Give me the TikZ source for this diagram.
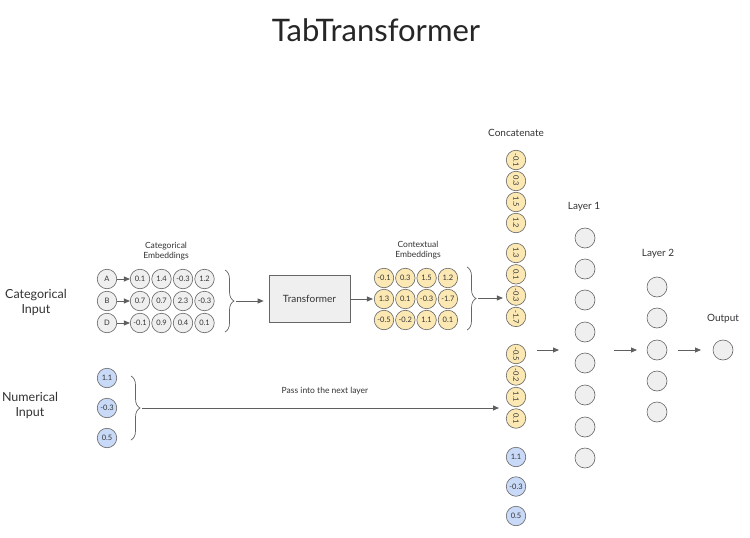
\documentclass[tikz,border=0pt]{standalone}
\usepackage{fontspec}
\setmainfont{Lato}
\usetikzlibrary{arrows.meta,decorations.pathreplacing}
\definecolor{edge}{HTML}{666666}
\definecolor{grayfill}{HTML}{EFEFEF}
\definecolor{yel}{HTML}{FCE8B2}
\definecolor{blu}{HTML}{C9DAF8}
\definecolor{arr}{HTML}{5F5F5F}
\definecolor{txt}{HTML}{333333}
\begin{document}
\begin{tikzpicture}[x=1pt,y=-1pt,
  cell/.style={circle,draw=edge,line width=0.6pt,minimum size=19.5pt,inner sep=0pt,font=\fontsize{7.5}{8}\selectfont,text=txt},
  gcell/.style={cell,fill=grayfill},
  ycell/.style={cell,fill=yel},
  bcell/.style={cell,fill=blu},
  vcell/.style={ycell,rotate=-90},
  neuron/.style={circle,draw=edge,line width=0.6pt,fill=grayfill,minimum size=20pt,inner sep=0pt},
  lab/.style={font=\fontsize{10}{12}\selectfont,text=txt,align=center},
  smlab/.style={font=\fontsize{8.5}{10}\selectfont,text=txt,align=center},
  biglab/.style={font=\fontsize{12.5}{15}\selectfont,text=txt,align=center},
  conn/.style={draw=arr,line width=0.8pt,-{Triangle[width=5pt,length=6pt]}},
  bracestyle/.style={draw=edge,line width=0.7pt,decorate,decoration={brace,amplitude=9pt,aspect=0.5}},
]
\useasboundingbox (0,0) rectangle (750,538);
\fill[white] (0,0) rectangle (750,538);

% title
\node[font=\fontsize{31}{36}\selectfont,text=black!85] (title) at (376,30) {TabTransformer};

% left labels
\node[biglab] (catin) at (36,302) {Categorical\\Input};
\node[biglab] (numin) at (30,405) {Numerical\\Input};

% categorical inputs
\node[gcell] (ca) at (107,279) {A};
\node[gcell] (cb) at (107,301) {B};
\node[gcell] (cd) at (107,323) {D};

% categorical embeddings
\node[smlab] (celab) at (166,251) {Categorical\\Embeddings};
\foreach \v [count=\i] in {0.1,1.4,-0.3,1.2}
  \node[gcell] (ea\i) at ({140+21.5*(\i-1)},279) {\v};
\foreach \v [count=\i] in {0.7,0.7,2.3,-0.3}
  \node[gcell] (eb\i) at ({140+21.5*(\i-1)},301) {\v};
\foreach \v [count=\i] in {-0.1,0.9,0.4,0.1}
  \node[gcell] (ed\i) at ({140+21.5*(\i-1)},323) {\v};
\draw[conn] (ca) -- (ea1);
\draw[conn] (cb) -- (eb1);
\draw[conn] (cd) -- (ed1);

% brace 1 and transformer
\coordinate (b1top) at (225,270);
\coordinate (b1bot) at (225,332);
\coordinate (b1tip) at (236,301);
\draw[bracestyle] (b1top) -- (b1bot);
\node[draw=edge,line width=0.7pt,fill=grayfill,minimum width=81pt,minimum height=47pt,inner sep=0pt,lab] (tr) at (309.5,299) {Transformer};
\draw[conn,shorten >=5pt] (b1tip) -- (b1tip -| tr.west);

% contextual embeddings
\node[smlab] (cxlab) at (418,250) {Contextual\\Embeddings};
\foreach \v [count=\i] in {-0.1,0.3,1.5,1.2}
  \node[ycell] (xa\i) at ({384+21.3*(\i-1)},278) {\v};
\foreach \v [count=\i] in {1.3,0.1,-0.3,-1.7}
  \node[ycell] (xb\i) at ({384+21.3*(\i-1)},299) {\v};
\foreach \v [count=\i] in {-0.5,-0.2,1.1,0.1}
  \node[ycell] (xc\i) at ({384+21.3*(\i-1)},320) {\v};
\draw[conn,shorten >=1pt] (tr.east) -- (xb1.west);

% brace 2
\coordinate (b2top) at (467,267);
\coordinate (b2bot) at (467,330);
\coordinate (b2tip) at (478,298);

% concatenate column
\node[lab] (conlab) at (516,133) {Concatenate};
\foreach \v [count=\i] in {-0.1,0.3,1.5,1.2}
  \node[vcell] (k1\i) at (516,{160+21*(\i-1)}) {\v};
\foreach \v [count=\i] in {1.3,0.1,-0.3,-1.7}
  \node[vcell] (k2\i) at (516,{253+21.3*(\i-1)}) {\v};
\foreach \v [count=\i] in {-0.5,-0.2,1.1,0.1}
  \node[vcell] (k3\i) at (516,{354+21.5*(\i-1)}) {\v};
\foreach \v [count=\i] in {1.1,-0.3,0.5}
  \node[bcell] (kb\i) at (516,{457+29.5*(\i-1)}) {\v};

\draw[bracestyle] (b2top) -- (b2bot);
\draw[conn,shorten >=3pt] (b2tip) -- (b2tip -| k23.south);

% numerical inputs
\node[bcell] (n1) at (107,378) {1.1};
\node[bcell] (n2) at (107,408) {-0.3};
\node[bcell] (n3) at (107,438) {0.5};
\coordinate (b3top) at (131,376);
\coordinate (b3bot) at (131,440);
\coordinate (b3tip) at (142,408);
\draw[bracestyle] (b3top) -- (b3bot);
\coordinate (numend) at (499,408);
\draw[conn] (b3tip) -- (numend);
\node[smlab] (passlab) at (325,391) {Pass into the next layer};

% layer 1
\node[lab] (l1lab) at (584,207) {Layer 1};
\foreach \y [count=\i] in {238,269,300,332,363,395,427,458}
  \node[neuron] (h\i) at (585,\y) {};
% layer 2
\node[lab] (l2lab) at (658,254) {Layer 2};
\foreach \y [count=\i] in {287,318,350,381,412}
  \node[neuron] (g\i) at (657,\y) {};
% output
\node[lab] (outlab) at (723,319) {Output};
\node[neuron] (out) at (723,350) {};

% arrows between layers
\coordinate (a1s) at (537,350);
\coordinate (a1e) at (559,350);
\coordinate (a2s) at (614,350);
\coordinate (a2e) at (637,350);
\coordinate (a3s) at (678,350);
\coordinate (a3e) at (701,350);
\draw[conn] (a1s) -- (a1e);
\draw[conn] (a2s) -- (a2e);
\draw[conn] (a3s) -- (a3e);
\end{tikzpicture}
\end{document}
